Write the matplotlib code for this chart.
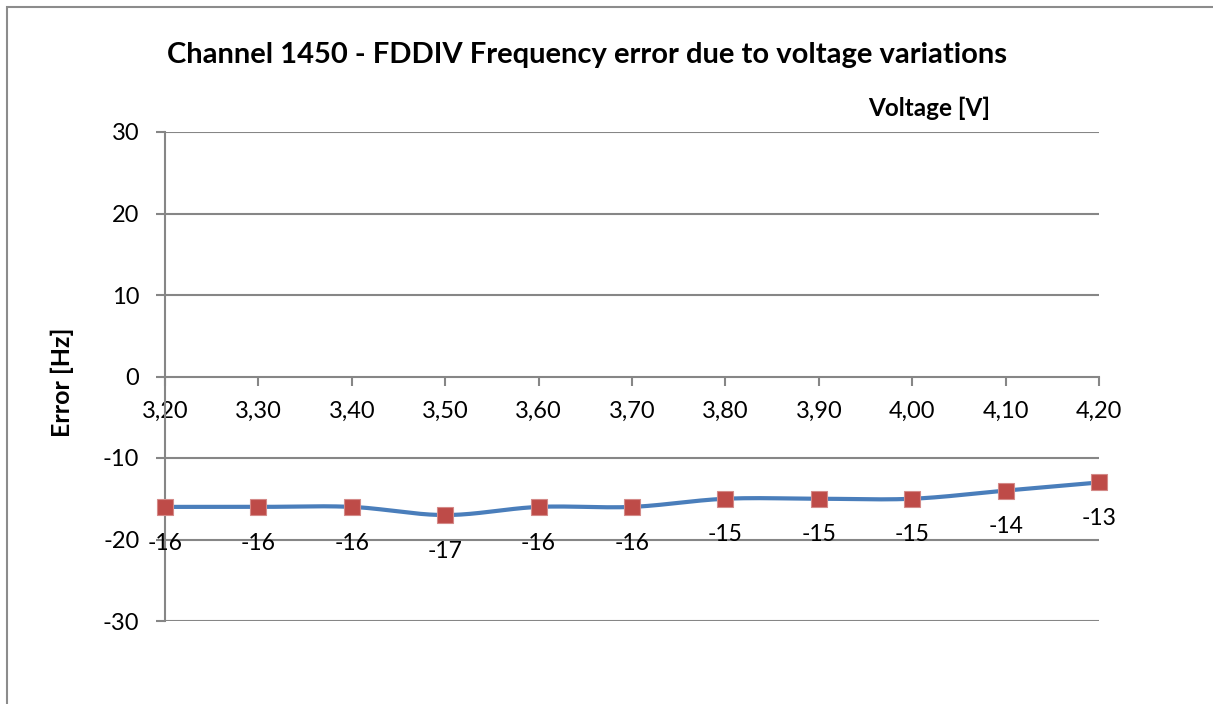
import numpy as np
import matplotlib
matplotlib.use("Agg")
import matplotlib.pyplot as plt
from matplotlib.patches import Rectangle

voltages = [3.20, 3.30, 3.40, 3.50, 3.60, 3.70, 3.80, 3.90, 4.00, 4.10, 4.20]
errors = [-16, -16, -16, -17, -16, -16, -15, -15, -15, -14, -13]
x_tick_labels = ["3,20", "3,30", "3,40", "3,50", "3,60", "3,70", "3,80", "3,90", "4,00", "4,10", "4,20"]
y_ticks = [-30, -20, -10, 0, 10, 20, 30]

title = "Channel 1450 - FDDIV Frequency error due to voltage variations"
x_label = "Voltage [V]"
y_label = "Error [Hz]"

plt.rcParams['font.family'] = ['Lato', 'DejaVu Sans']

def smooth(xs, ys, n=30):
    # Catmull-Rom style Bezier smoothing (like Excel's smoothed line) for rendering
    xs = np.asarray(xs, float); ys = np.asarray(ys, float)
    px, py = [], []
    m = len(xs)
    for i in range(m - 1):
        p0 = (xs[max(i-1, 0)], ys[max(i-1, 0)])
        p1 = (xs[i], ys[i]); p2 = (xs[i+1], ys[i+1])
        p3 = (xs[min(i+2, m-1)], ys[min(i+2, m-1)])
        c1 = (p1[0] + (p2[0]-p0[0])/6, p1[1] + (p2[1]-p0[1])/6)
        c2 = (p2[0] - (p3[0]-p1[0])/6, p2[1] - (p3[1]-p1[1])/6)
        t = np.linspace(0, 1, n, endpoint=(i == m-2))
        for a, b in ((0, px), (1, py)):
            b.extend((1-t)**3*p1[a] + 3*(1-t)**2*t*c1[a] + 3*(1-t)*t**2*c2[a] + t**3*p2[a])
    return np.array(px), np.array(py)

W, H = 1213, 704
fig = plt.figure(figsize=(W/100, H/100), dpi=100)
fig.patches.append(Rectangle((7/W, -0.1), 1.2, (H-7)/H + 0.1, transform=fig.transFigure,
                             fill=False, edgecolor='#8c8c8c', linewidth=1.5))

ax = fig.add_axes([165/W, 1-621/H, (1099-165)/W, (621-132)/H])
ax.set_xlim(voltages[0], voltages[-1])
ax.set_ylim(-30, 30)

grid_c = '#868686'
for y in y_ticks:
    if y != 0:
        ax.axhline(y, color=grid_c, linewidth=1.5, zorder=1)

sx, sy = smooth(voltages, errors)
ax.plot(sx, sy, color='#4A7EBB', linewidth=3, zorder=3, solid_capstyle='round')
ax.plot(voltages, errors, linestyle='none', marker='s', markersize=11,
        markerfacecolor='#BE4B48', markeredgecolor='#D48A88', markeredgewidth=0.8, zorder=4, clip_on=False)

for v, e in zip(voltages, errors):
    ax.annotate(f"{e}", (v, e), xytext=(0, -26), textcoords='offset points',
                ha='center', va='center', fontsize=16.5, color='black', zorder=5)

for s in ('top', 'right'):
    ax.spines[s].set_visible(False)
ax.spines['bottom'].set_position(('data', 0))
for s in ('left', 'bottom'):
    ax.spines[s].set_color(grid_c)
    ax.spines[s].set_linewidth(1.5)

ax.set_xticks(voltages)
ax.set_xticklabels(x_tick_labels)
ax.set_yticks(y_ticks)
ax.set_yticklabels([str(v) for v in y_ticks])
ax.tick_params(axis='x', direction='out', length=6.5, width=1.5, color=grid_c, pad=11, labelsize=17)
ax.tick_params(axis='y', direction='out', length=6.5, width=1.5, color=grid_c, pad=12, labelsize=17)

fig.text(587/W, 1-55/H, title, ha='center', va='center', fontsize=21, fontweight='bold')
fig.text(929/W, 1-108/H, x_label, ha='center', va='center', fontsize=17.5, fontweight='bold')
fig.text(62/W, 1-382/H, y_label, ha='center', va='center', fontsize=18, fontweight='bold', rotation=90)

fig.savefig('out.png', dpi=100)
